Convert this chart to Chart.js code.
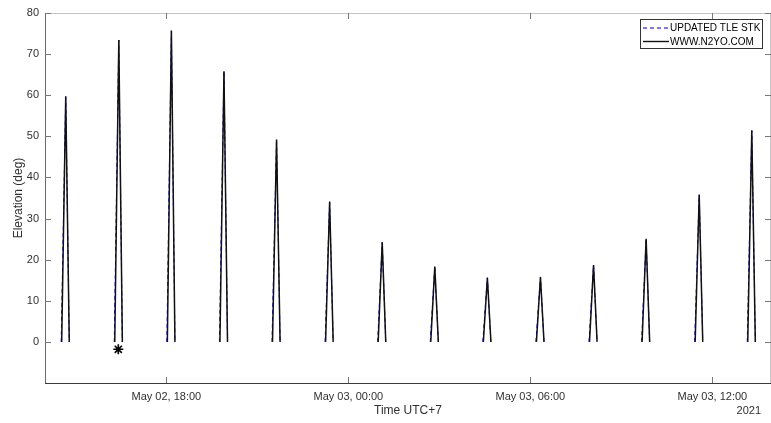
<!DOCTYPE html>
<html>
<head>
<meta charset="utf-8">
<script src="https://cdn.jsdelivr.net/npm/chart.js@4/dist/chart.umd.min.js"></script>
<style>
  html, body { margin: 0; padding: 0; background: #fff; }
  #wrap { width: 771px; height: 423px; position: relative; }
</style>
</head>
<body>
<div id="wrap"><canvas id="chart"></canvas></div>
<script>
'use strict';

// times are minutes after May 02 00:00 (UTC+7)
let passAos = [873, 978, 1082, 1186, 1290, 1395, 1499, 1603, 1707, 1812, 1917, 2021, 2126, 2230];
let passTca = [881, 986, 1090, 1194, 1298, 1403, 1507, 1611, 1715, 1820, 1925, 2029, 2134, 2238];
let passLos = [888, 993, 1097, 1201, 1305, 1410, 1514, 1618, 1722, 1827, 1932, 2036, 2141, 2245];
let n2yoMaxElev = [59.7, 73.4, 75.7, 65.8, 49.2, 34.1, 24.2, 18.3, 15.6, 15.8, 18.7, 25.1, 35.8, 51.4];
let stkAos = [872, 977, 1081, 1185, 1289, 1394, 1498, 1602, 1706, 1811, 1916, 2020, 2125, 2229];
let stkMaxElev = [59.7, 73.4, 75.7, 65.8, 49.2, 34.1, 24.2, 18.3, 15.6, 15.8, 18.7, 25.1, 35.8, 51.4];
let markedPass = { x: 985, y: -1.8 };

let xTicks = [1080, 1440, 1800, 2160];
let xTickLabels = ['May 02, 18:00', 'May 03, 00:00', 'May 03, 06:00', 'May 03, 12:00'];
let yTicks = [0, 10, 20, 30, 40, 50, 60, 70, 80];

const FONT = '"Liberation Sans", Arial, Helvetica, sans-serif';
const TEXT = '#303030';

function passSeries(aos, tca, los, peaks) {
  let pts = [];
  for (let i = 0; i < peaks.length; i++) {
    pts.push({ x: aos[i], y: 0 });
    pts.push({ x: tca[i], y: peaks[i] });
    pts.push({ x: los[i], y: 0 });
    pts.push({ x: los[i] + 1, y: null }); // break between passes
  }
  return pts;
}

// MATLAB-style box, inward ticks, axis titles and legend
const axesBox = {
  id: 'axesBox',
  beforeDatasetsDraw(chart) {
    const { ctx, chartArea: a, scales } = chart;
    ctx.save();
    ctx.lineWidth = 1;
    ctx.strokeStyle = '#c4c4c4';
    ctx.beginPath();
    ctx.moveTo(a.left, a.top + 0.5); ctx.lineTo(a.right, a.top + 0.5);
    ctx.moveTo(a.right - 0.5, a.top); ctx.lineTo(a.right - 0.5, a.bottom);
    ctx.stroke();
    ctx.strokeStyle = '#6a6a6a';
    ctx.beginPath();
    ctx.moveTo(a.left + 0.5, a.top); ctx.lineTo(a.left + 0.5, a.bottom);
    ctx.stroke();
    ctx.strokeStyle = '#3a3a3a';
    ctx.beginPath();
    ctx.moveTo(a.left, a.bottom + 0.5); ctx.lineTo(a.right, a.bottom + 0.5);
    ctx.stroke();

    ctx.strokeStyle = '#777';
    ctx.beginPath();
    yTicks.forEach(v => {
      const py = Math.round(scales.y.getPixelForValue(v)) + 0.5;
      ctx.moveTo(a.left, py); ctx.lineTo(a.left + 6, py);
      ctx.moveTo(a.right, py); ctx.lineTo(a.right - 6, py);
    });
    xTicks.forEach(v => {
      const px = Math.round(scales.x.getPixelForValue(v)) + 0.5;
      ctx.moveTo(px, a.bottom); ctx.lineTo(px, a.bottom - 6);
      ctx.moveTo(px, a.top); ctx.lineTo(px, a.top + 6);
    });
    ctx.stroke();
    ctx.restore();
  },
  afterDraw(chart) {
    const { ctx, chartArea: a } = chart;
    ctx.save();
    ctx.fillStyle = TEXT;
    ctx.font = '12px ' + FONT;
    ctx.textAlign = 'center';
    ctx.textBaseline = 'middle';
    ctx.fillText('Time UTC+7', 408, 411);
    ctx.textAlign = 'right';
    ctx.font = '11px ' + FONT;
    ctx.fillText('2021', 761, 411);
    ctx.translate(19, (a.top + a.bottom) / 2);
    ctx.rotate(-Math.PI / 2);
    ctx.textAlign = 'center';
    ctx.font = '12px ' + FONT;
    ctx.fillText('Elevation (deg)', 0, 0);
    ctx.restore();

    // legend
    ctx.save();
    const lx = 640.5, ly = 19.5, lw = 122, lh = 29;
    ctx.fillStyle = '#fff';
    ctx.fillRect(lx, ly, lw, lh);
    ctx.strokeStyle = '#333';
    ctx.lineWidth = 1;
    ctx.strokeRect(lx, ly, lw, lh);
    ctx.font = '10px ' + FONT;
    ctx.textBaseline = 'middle';
    ctx.textAlign = 'left';
    const rows = chart.data.datasets.filter(d => d.inLegend);
    rows.forEach((d, i) => {
      const ry = 28 + i * 13.5;
      ctx.strokeStyle = d.legendColor || d.borderColor;
      ctx.lineWidth = d.legendWidth || d.borderWidth;
      ctx.setLineDash(d.borderDash || []);
      ctx.beginPath();
      ctx.moveTo(643, ry); ctx.lineTo(669, ry);
      ctx.stroke();
      ctx.setLineDash([]);
      ctx.fillStyle = '#000';
      ctx.fillText(d.label, 670, ry + 0.5);
    });
    ctx.restore();
  }
};

let chart = new Chart(document.getElementById('chart'), {
  type: 'line',
  data: {
    datasets: [{
      label: 'UPDATED TLE STK',
      inLegend: true,
      order: 3, // drawn underneath the N2YO trace
      legendColor: '#4d4dff',
      legendWidth: 1.3,
      data: passSeries(stkAos, passTca, passLos, stkMaxElev),
      borderColor: '#0000ff',
      borderWidth: 1,
      borderDash: [4, 3],
      pointRadius: 0,
      spanGaps: false,
      tension: 0
    }, {
      label: 'WWW.N2YO.COM',
      inLegend: true,
      order: 2,
      legendWidth: 1.4,
      data: passSeries(passAos, passTca, passLos, n2yoMaxElev),
      borderColor: '#111111',
      borderWidth: 1.5,
      pointRadius: 0,
      spanGaps: false,
      tension: 0
    }, {
      label: 'marked pass',
      order: 1,
      data: [markedPass],
      showLine: false,
      pointStyle: 'star',
      pointRadius: 5,
      borderColor: '#000',
      borderWidth: 1.6
    }]
  },
  options: {
    responsive: true,
    maintainAspectRatio: false,
    animation: false,
    layout: { autoPadding: false, padding: { top: 13, right: 0, left: 0, bottom: 0 } },
    plugins: { legend: { display: false }, tooltip: { enabled: false } },
    scales: {
      x: {
        type: 'linear',
        min: 840,
        max: 2276,
        grid: { display: false, drawTicks: false },
        border: { display: false },
        afterBuildTicks: s => { s.ticks = xTicks.map(v => ({ value: v })); },
        afterFit: s => { s.height = 40; s.paddingLeft = 0; s.paddingRight = 0; },
        ticks: {
          autoSkip: false,
          maxRotation: 0,
          padding: 7,
          color: TEXT,
          font: { family: FONT, size: 11 },
          callback: (v) => xTickLabels[xTicks.indexOf(v)]
        }
      },
      y: {
        min: -10,
        max: 80,
        grid: { display: false, drawTicks: false },
        border: { display: false },
        afterBuildTicks: s => { s.ticks = yTicks.map(v => ({ value: v })); },
        afterFit: s => { s.width = 45; s.paddingTop = 0; s.paddingBottom = 0; },
        ticks: {
          padding: 6,
          color: TEXT,
          font: { family: FONT, size: 11 }
        }
      }
    }
  },
  plugins: [axesBox]
});
</script>
</body>
</html>
